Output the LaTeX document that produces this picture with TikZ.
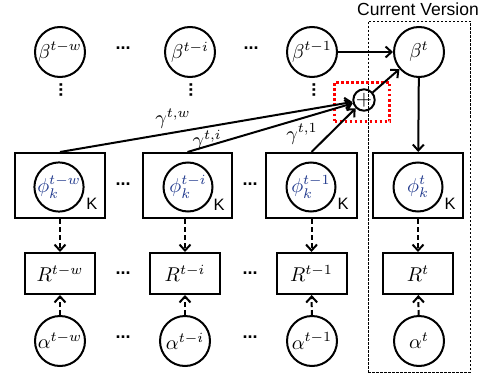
\documentclass[tikz,border=0pt]{standalone}
\usepackage{graphicx}
\usepackage{fontspec}
\setsansfont{Liberation Sans}
\usetikzlibrary{arrows.meta}
\definecolor{phiblue}{RGB}{31,56,140}
\newcommand{\ml}[1]{\scalebox{2}{$#1$}}
\begin{document}
\begin{tikzpicture}[x=1pt,y=-1pt,
  every node/.style={inner sep=0pt},
  var/.style={circle,draw,line width=2pt,minimum size=50pt},
  phicirc/.style={circle,draw,line width=2pt,minimum size=49pt,text=phiblue},
  plate/.style={draw,line width=2pt,minimum width=90pt,minimum height=65pt},
  rbox/.style={draw,line width=2pt,minimum width=70pt,minimum height=41pt},
  klab/.style={font=\sffamily\fontsize{16.5}{18}\selectfont},
  dots/.style={font=\sffamily\bfseries\fontsize{18}{20}\selectfont},
  arr/.style={line width=2pt,-{Straight Barb[length=6pt,width=11pt,line width=2pt]}},
  darr/.style={arr,dash pattern=on 5pt off 3pt}
]
\useasboundingbox (0,0) rectangle (489,377);
% current version box
\node[draw,line width=0.7pt,dash pattern=on 2.5pt off 1.5pt,minimum width=102pt,minimum height=351pt] (cv) at (419,196.5) {};
\node[font=\sffamily\fontsize{17.5}{20}\selectfont,anchor=base] (cvlab) at (418,16) {Current Version};
% red dotted box
\node[draw=red,line width=2.5pt,dash pattern=on 2.5pt off 2.5pt,minimum width=55pt,minimum height=39pt] (rb) at (362,102) {};
% beta row
\node[var] (bW) at (60,52) {\ml{\beta^{t-w}}};
\node[var] (bI) at (190,52) {\ml{\beta^{t-i}}};
\node[var] (b1) at (312,52) {\ml{\beta^{t-1}}};
\node[var] (bT) at (419,52) {\ml{\beta^{t}}};
\node[dots] (d1) at (123,48) {...};
\node[dots] (d2) at (251,48) {...};
\node[dots,rotate=-90] (v1) at (61,90) {...};
\node[dots,rotate=-90] (v2) at (191,90) {...};
\node[dots,rotate=-90] (v3) at (314,90) {...};
% plus
\node[circle,draw,line width=2pt,minimum size=21pt] (pl) at (364,100) {\scalebox{2.1}{$+$}};
% phi plates
\node[plate] (pW) at (60,185.5) {};
\node[plate,minimum width=89pt] (pI) at (187.5,185.5) {};
\node[plate,minimum width=91pt] (p1) at (311.5,185.5) {};
\node[plate] (pT) at (418,185.5) {};
\node[phicirc] (cW) at (59,187) {\ml{\phi_k^{t-w}}};
\node[phicirc] (cI) at (188,187) {\ml{\phi_k^{t-i}}};
\node[phicirc] (c1) at (311,187) {\ml{\phi_k^{t-1}}};
\node[phicirc] (cT) at (418,187) {\ml{\phi_k^{t}}};
\node[klab] (kW) at (92,204) {K};
\node[klab] (kI) at (219,205) {K};
\node[klab] (k1) at (343,204) {K};
\node[klab] (kT) at (450,204) {K};
\node[dots] (d3) at (123,184) {...};
\node[dots] (d4) at (250,184) {...};
% R row
\node[rbox] (rW) at (60,273.5) {\ml{R^{t-w}}};
\node[rbox] (rI) at (185,273.5) {\ml{R^{t-i}}};
\node[rbox] (r1) at (311.5,273.5) {\ml{R^{t-1}}};
\node[rbox] (rT) at (418,273.5) {\ml{R^{t}}};
\node[dots] (d5) at (123,273) {...};
\node[dots] (d6) at (250,273) {...};
% alpha row
\node[var] (aW) at (60,341) {\ml{\alpha^{t-w}}};
\node[var] (aI) at (185,341) {\ml{\alpha^{t-i}}};
\node[var] (a1) at (312,341) {\ml{\alpha^{t-1}}};
\node[var] (aT) at (419,341) {\ml{\alpha^{t}}};
\node[dots] (d7) at (123,337) {...};
\node[dots] (d8) at (250,337) {...};
% gamma labels
\node (gW) at (173,119) {\ml{\gamma^{t,w}}};
\node (gI) at (207,140) {\ml{\gamma^{t,i}}};
\node (g1) at (302,134) {\ml{\gamma^{t,1}}};
% connectors
\draw[arr] (b1) -- (bT);
\draw[arr] (pl) -- (bT);
\draw[arr] (bT) -- (pT);
\draw[arr] (pW.north) -- (pl);
\draw[arr] (pI.north) -- (pl);
\draw[arr] (p1.north) -- (pl);
\draw[darr] (pW.south -| rW) -- (rW);
\draw[darr] (pI.south -| rI) -- (rI);
\draw[darr] (p1.south -| r1) -- (r1);
\draw[darr] (pT.south -| rT) -- (rT);
\draw[darr] (aW) -- (rW);
\draw[darr] (aI) -- (rI);
\draw[darr] (a1) -- (r1);
\draw[darr] (aT) -- (rT);
\end{tikzpicture}
\end{document}
